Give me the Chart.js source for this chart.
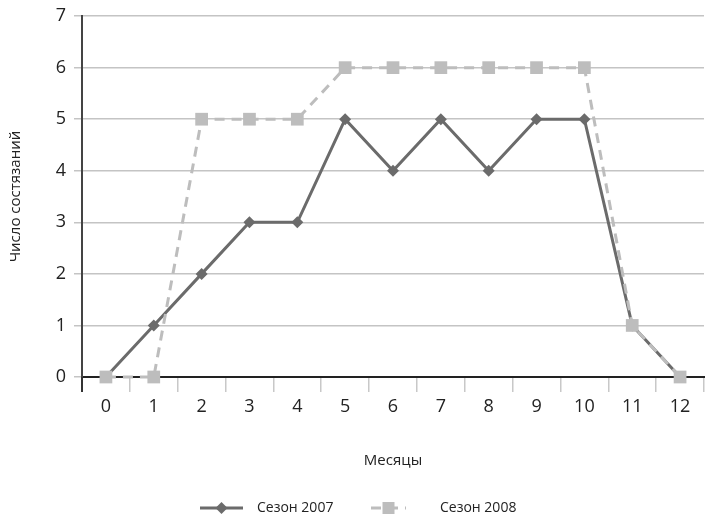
<!DOCTYPE html>
<html>
<head>
<meta charset="utf-8">
<script src="https://cdn.jsdelivr.net/npm/chart.js@4"></script>
<style>
  html, body { margin: 0; padding: 0; background: #fff; }
  #wrap { width: 713px; height: 531px; }
</style>
</head>
<body>
<div id="wrap"><canvas id="chart" width="713" height="531"></canvas></div>
<script>
// Months on the x axis and the number of contests per season
const months = ["0", "1", "2", "3", "4", "5", "6", "7", "8", "9", "10", "11", "12"];
const season2007 = [0, 1, 2, 3, 3, 5, 4, 5, 4, 5, 5, 1, 0];
const season2008 = [0, 0, 5, 5, 5, 6, 6, 6, 6, 6, 6, 1, 0];
const seriesNames = ["Сезон 2007", "Сезон 2008"];

const FONT = "'Open Sans', sans-serif";
const DARK = "#6b6b6b";
const LIGHT = "#bdbdbd";

// Legend drawn by hand: line + marker, then the label
const legendPlugin = {
  id: "lineLegend",
  afterDraw(chart) {
    const ctx = chart.ctx;
    const y = 508;
    const items = [
      { x1: 200, x2: 243, text: 257, color: DARK, dash: [], marker: "diamond" },
      { x1: 371, x2: 406, text: 440, color: LIGHT, dash: [10, 7], marker: "square" }
    ];
    ctx.save();
    items.forEach((it, i) => {
      ctx.strokeStyle = it.color;
      ctx.lineWidth = 3;
      ctx.setLineDash(it.dash);
      ctx.beginPath();
      ctx.moveTo(it.x1, y);
      ctx.lineTo(it.x2, y);
      ctx.stroke();
      const mx = (it.x1 + it.x2) / 2;
      ctx.fillStyle = it.color;
      ctx.beginPath();
      if (it.marker === "diamond") {
        ctx.moveTo(mx, y - 6);
        ctx.lineTo(mx + 6, y);
        ctx.lineTo(mx, y + 6);
        ctx.lineTo(mx - 6, y);
      } else {
        ctx.rect(mx - 6, y - 6, 12, 12);
      }
      ctx.fill();
      ctx.fillStyle = "#222";
      ctx.font = "14px " + FONT;
      ctx.textBaseline = "middle";
      ctx.textAlign = "left";
      ctx.fillText(seriesNames[i], it.text, y);
    });
    ctx.restore();
  }
};

new Chart(document.getElementById("chart"), {
  type: "line",
  data: {
    labels: months,
    datasets: [
      {
        label: seriesNames[0],
        data: season2007,
        borderColor: DARK,
        backgroundColor: DARK,
        pointBackgroundColor: DARK,
        borderWidth: 3,
        pointStyle: "rectRot",
        pointRadius: 6,
        pointBorderWidth: 0,
        tension: 0,
        clip: false,
        order: 2
      },
      {
        label: seriesNames[1],
        data: season2008,
        borderColor: LIGHT,
        backgroundColor: LIGHT,
        pointBackgroundColor: LIGHT,
        borderWidth: 3,
        borderDash: [10, 7],
        pointStyle: "rect",
        pointRadius: 9,
        pointBorderWidth: 0,
        tension: 0,
        clip: false,
        order: 1
      }
    ]
  },
  options: {
    responsive: false,
    animation: false,
    layout: { padding: { top: 15, right: 0, bottom: 61, left: 7 } },
    plugins: {
      legend: { display: false },
      tooltip: { enabled: false }
    },
    scales: {
      x: {
        offset: true,
        grid: {
          offset: true,
          drawOnChartArea: false,
          drawTicks: true,
          tickLength: 15,
          color: (c) => (c.index === 0 ? "#333" : "#c8c8c8"),
          lineWidth: (c) => (c.index === 0 ? 2 : 1.5)
        },
        border: { color: "#222", width: 2 },
        ticks: { color: "#222", font: { family: FONT, size: 18 }, padding: 4, maxRotation: 0 },
        title: {
          display: true,
          text: "Месяцы",
          color: "#222",
          font: { family: FONT, size: 15 },
          padding: { top: 0, bottom: 0 }
        },
        afterFit: (scale) => { scale.height = 93; }
      },
      y: {
        min: 0,
        max: 7,
        ticks: { stepSize: 1, color: "#222", font: { family: FONT, size: 18, lineHeight: 0.9 }, padding: 8 },
        grid: { color: "#c4c4c4", lineWidth: 1.5, tickLength: 8 },
        border: { color: "#444", width: 2 },
        title: {
          display: true,
          text: "Число состязаний",
          color: "#222",
          font: { family: FONT, size: 15 },
          padding: { top: 0, bottom: 14 }
        },
        afterFit: (scale) => { scale.width = 75; }
      }
    }
  },
  plugins: [legendPlugin]
});
</script>
</body>
</html>
